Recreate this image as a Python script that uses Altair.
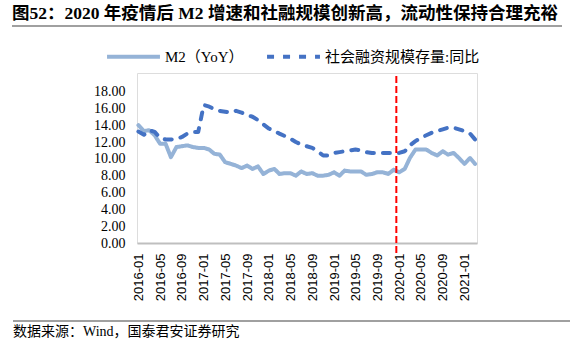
import altair as alt
import pandas as pd

# ---- data ----
months = [d.strftime("%Y-%m-%d") for d in pd.date_range("2016-01-01", "2021-03-01", freq="MS")]

m2 = [
    14.0, 13.3, 13.4, 12.8, 11.8, 11.8, 10.2, 11.4, 11.5, 11.6, 11.4, 11.3,
    11.3, 11.1, 10.6, 10.5, 9.6, 9.4, 9.2, 8.9, 9.2, 8.8, 9.1, 8.2,
    8.6, 8.8, 8.2, 8.3, 8.3, 8.0, 8.5, 8.2, 8.3, 8.0, 8.0, 8.1,
    8.4, 8.0, 8.6, 8.5, 8.5, 8.5, 8.1, 8.2, 8.4, 8.4, 8.2, 8.7,
    8.4, 8.8, 10.1, 11.1, 11.1, 11.1, 10.7, 10.4, 10.9, 10.5, 10.7, 10.1,
    9.4, 10.1, 9.4,
]
tsf = [
    13.25, 12.86, 13.4, 13.2, 12.5, 12.3, 12.3, 12.35, 12.6, 13.0, 13.2, 13.2,
    16.4, 16.2, 15.9, 15.7, 15.6, 15.5, 15.7, 15.5, 15.2, 15.0, 14.6, 14.1,
    13.6, 13.3, 13.0, 12.7, 12.4, 12.0, 11.7, 11.5, 11.3, 10.9, 10.4, 10.4,
    10.7, 10.8, 10.9, 11.0, 11.1, 11.0, 10.8, 10.7, 10.7, 10.7, 10.7, 10.7,
    10.7, 10.9, 11.6, 12.1, 12.5, 12.8, 13.1, 13.3, 13.5, 13.7, 13.7, 13.5,
    13.3, 13.0, 12.3,
]
series_names = ["M2（YoY）", "社会融资规模存量:同比"]
tick_months = ["2016-01", "2016-05", "2016-09", "2017-01", "2017-05", "2017-09",
               "2018-01", "2018-05", "2018-09", "2019-01", "2019-05", "2019-09",
               "2020-01", "2020-05", "2020-09", "2021-01"]
y_ticks = [0, 2, 4, 6, 8, 10, 12, 14, 16, 18]
marker_date = "2019-12-16"
marker_span = [-1.2, 20.2]

title_text = "图52：2020 年疫情后 M2 增速和社融规模创新高，流动性保持合理充裕"
source_text = "数据来源：Wind，国泰君安证券研究"

# ---- frames ----
df = pd.DataFrame({
    "date": months * 2,
    "value": m2 + tsf,
    "series": [series_names[0]] * len(m2) + [series_names[1]] * len(tsf),
})
df_rule = pd.DataFrame({"date": [marker_date], "value": [marker_span[0]], "y2": [marker_span[1]]})
one = pd.DataFrame({"k": [0]})

tick_ts = [int(pd.Timestamp(t + "-01", tz="UTC").timestamp() * 1000) for t in tick_months]
dom = [int(pd.Timestamp("2015-12-24", tz="UTC").timestamp() * 1000),
       int(pd.Timestamp("2021-03-12", tz="UTC").timestamp() * 1000)]

serif = "Liberation Serif, Noto Sans CJK SC"
W, H = 340, 170

x_scale = alt.Scale(type="utc", domain=dom)
x_axis = alt.Axis(values=tick_ts, labelExpr="utcFormat(datum.value, '%Y-%m')", title=None,
                  labelAngle=270, labelFont="Liberation Sans", labelFontSize=13,
                  labelColor="#000000", labelPadding=10, ticks=False,
                  domainColor="#BFBFBF", domainWidth=2, grid=False,
                  labelOverlap=False, labelFlush=False)
y_scale = alt.Scale(domain=[0, 20.2], nice=False)
y_axis = alt.Axis(values=y_ticks, format=".2f", title=None, domain=False, ticks=False,
                  grid=False, labelFont="Liberation Serif", labelFontSize=14,
                  labelColor="#000000", labelPadding=12, labelOverlap=False)

lines = alt.Chart(df).mark_line(strokeWidth=4, strokeCap="round", strokeJoin="round").encode(
    x=alt.X("date:T", scale=x_scale, axis=x_axis),
    y=alt.Y("value:Q", scale=y_scale, axis=y_axis),
    color=alt.Color("series:N",
                    scale=alt.Scale(domain=series_names, range=["#95B3D7", "#4472C4"]),
                    legend=alt.Legend(title=None, orient="none", legendX=-32, legendY=-45,
                                      direction="horizontal", symbolType="stroke",
                                      symbolSize=2800, symbolStrokeWidth=4,
                                      labelFont=serif, labelFontSize=15, labelColor="#000000",
                                      labelOffset=3, columnPadding=15, padding=0)),
    strokeDash=alt.StrokeDash("series:N",
                              scale=alt.Scale(domain=series_names, range=[[1, 0], [7, 9]]),
                              legend=None),
)

rule = alt.Chart(df_rule).mark_rule(color="#FF0000", strokeWidth=2, strokeDash=[7, 3]).encode(
    x=alt.X("date:T", scale=x_scale, axis=x_axis),
    y=alt.Y("value:Q", scale=y_scale, axis=y_axis),
    y2="y2:Q",
)

title = alt.Chart(one).mark_text(text=title_text, font=serif, fontSize=17.5, fontWeight="bold",
                                 align="left", baseline="middle", color="#000000").encode(
    x=alt.value(-125), y=alt.value(-59))
title_line = alt.Chart(one).mark_rule(color="#808080", strokeWidth=1.5).encode(
    x=alt.value(-125), x2=alt.value(425), y=alt.value(-47))
foot_line = alt.Chart(one).mark_rule(color="#808080", strokeWidth=1.5).encode(
    x=alt.value(-124), x2=alt.value(433), y=alt.value(248))
foot = alt.Chart(one).mark_text(text=source_text, font=serif, fontSize=14,
                                align="left", baseline="middle", color="#000000").encode(
    x=alt.value(-124), y=alt.value(259))

chart = alt.layer(lines, rule, title, title_line, foot_line, foot).properties(
    width=W, height=H,
    autosize=alt.AutoSizeParams(type="none"),
    padding={"left": 137, "top": 73, "right": 93, "bottom": 110},
).configure_view(stroke=None).configure(background="#FFFFFF")

chart.save("out.html", embed_options={"renderer": "svg", "actions": False})
